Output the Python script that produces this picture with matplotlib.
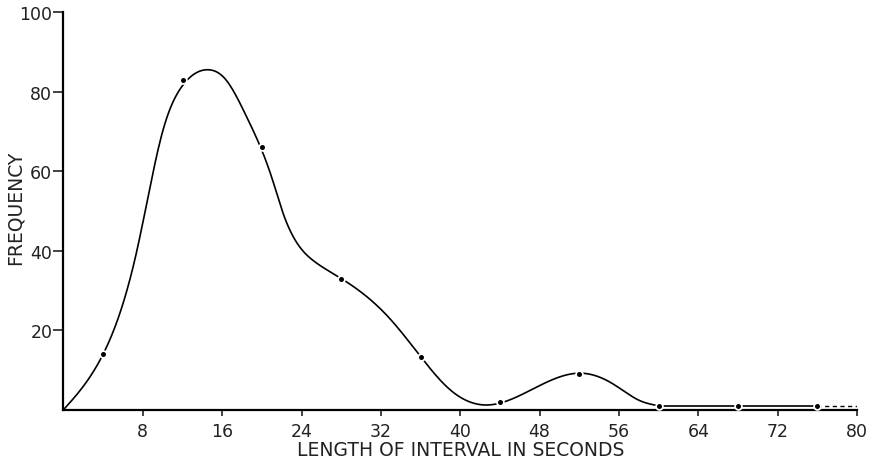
import numpy as np
import matplotlib.pyplot as plt

# observed frequencies (dots)
obs_x = [4, 12, 20, 28, 36, 44, 52, 60, 68, 76]
obs_y = [14, 83, 66, 33, 13.3, 2, 9.1, 1, 1, 1]

# hand-drawn smooth curve
curve_x = [0, 4, 7.4, 10, 12, 14.5, 16.3, 18.4, 21.05, 22.1, 25.4, 28, 32.8, 36,
           38.9, 42.6, 47.3, 52.2, 55.4, 58.1, 60]
curve_y = [0, 14, 40, 70, 81.5, 85.5, 83.2, 74, 58, 49.7, 37.1, 33, 23.2, 13.4,
           5.2, 1.2, 5.2, 9.2, 6.5, 2.3, 1.0]
tail_x = [60, 68, 76]
tail_y = [1, 1, 1]
dash_x = [76, 80]
dash_y = [1, 1]

xticks = [8, 16, 24, 32, 40, 48, 56, 64, 72, 80]
yticks = [20, 40, 60, 80, 100]


def natural_spline(xs, ys, n=600):
    x = np.asarray(xs, float)
    y = np.asarray(ys, float)
    m = len(x)
    h = np.diff(x)
    A = np.zeros((m, m))
    b = np.zeros(m)
    A[0, 0] = A[-1, -1] = 1
    for i in range(1, m - 1):
        A[i, i - 1] = h[i - 1]
        A[i, i] = 2 * (h[i - 1] + h[i])
        A[i, i + 1] = h[i]
        b[i] = 6 * ((y[i + 1] - y[i]) / h[i] - (y[i] - y[i - 1]) / h[i - 1])
    M = np.linalg.solve(A, b)
    xx = np.linspace(x[0], x[-1], n)
    k = np.clip(np.searchsorted(x, xx) - 1, 0, m - 2)
    t0 = x[k + 1] - xx
    t1 = xx - x[k]
    hk = h[k]
    yy = (M[k] * t0 ** 3 + M[k + 1] * t1 ** 3) / (6 * hk) \
        + (y[k] / hk - M[k] * hk / 6) * t0 + (y[k + 1] / hk - M[k + 1] * hk / 6) * t1
    return xx, yy


plt.rcParams['font.family'] = 'DejaVu Sans'
fig = plt.figure(figsize=(8.73, 4.6), dpi=100)
ax = fig.add_axes([0.0727, 0.107, 0.909, 0.8646])

sx, sy = natural_spline(curve_x, curve_y)
ax.plot(sx, sy, color='black', lw=1.2)
ax.plot(tail_x, tail_y, color='black', lw=1.2)
ax.plot(dash_x, dash_y, color='black', lw=1.0, ls=(0, (3, 2.5)))
ax.plot(obs_x, obs_y, 'o', color='black', ms=4, mec='white', mew=2.2, zorder=5)
ax.plot(obs_x, obs_y, 'o', color='black', ms=3.6, mew=0, zorder=6)

ax.set_xlim(0, 80)
ax.set_ylim(0, 100)
ax.set_xticks(xticks)
ax.set_yticks(yticks)
ax.set_xticklabels([str(v) for v in xticks])
ax.set_yticklabels([str(v) for v in yticks])
for s in ['top', 'right']:
    ax.spines[s].set_visible(False)
for s in ['left', 'bottom']:
    ax.spines[s].set_linewidth(1.6)
ax.tick_params(axis='x', length=4.5, width=1.2, pad=4, labelsize=12.5, colors='#222')
ax.tick_params(axis='y', length=7, width=1.2, pad=1, labelsize=12.5, colors='#222')
ax.set_xlabel('LENGTH OF INTERVAL IN SECONDS', fontsize=13.5, color='#222', labelpad=0)
fig.text(15 / 873, 1 - 208 / 460, 'FREQUENCY', rotation=90, ha='center', va='center',
         fontsize=13.5, color='#222')

fig.savefig('out.png', dpi=100)
